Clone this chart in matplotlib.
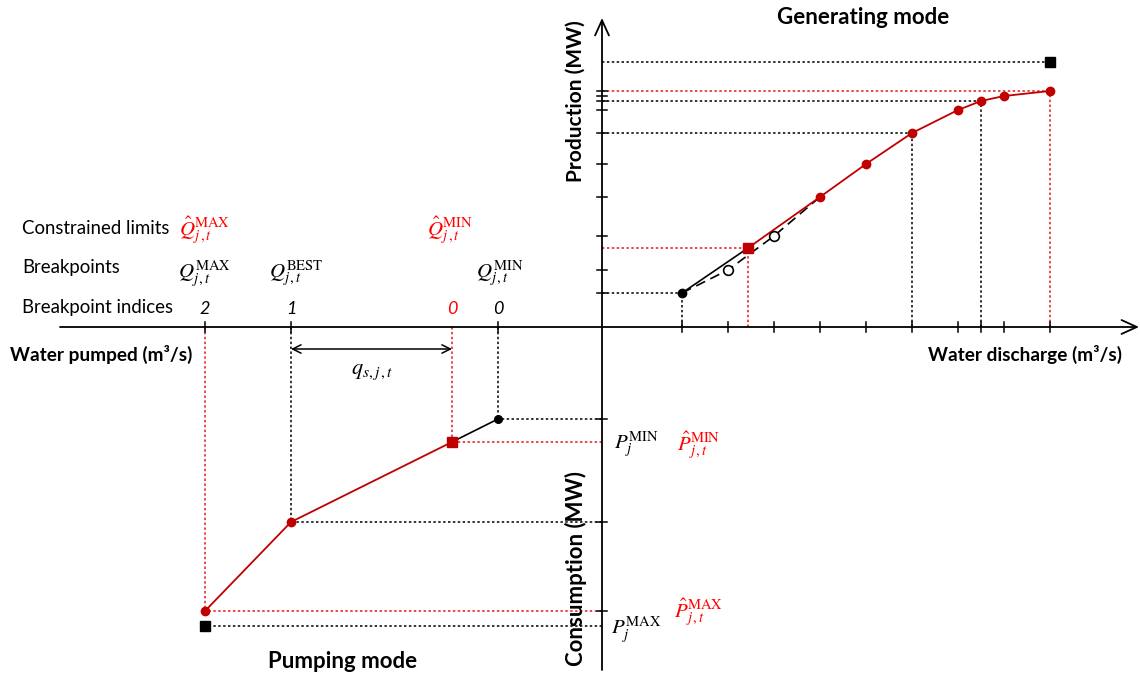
import matplotlib
matplotlib.use('Agg')
import matplotlib.pyplot as plt

plt.rcParams['font.family'] = ['Lato', 'DejaVu Sans']
plt.rcParams['mathtext.fontset'] = 'stix'

# ---- data (origin at the axes crossing) ----
# Generating mode: water discharge (+x) vs production (+y)
gen_tick_q = [80, 126, 172, 218, 264, 310, 356, 379, 402, 448]
gen_tick_p = [34, 57, 91, 130, 163, 194, 217, 226, 231, 236]
gen_unc_q = [80, 126, 172, 218]
gen_unc_p = [34, 57, 91, 130]
gen_open_q = [126, 172]
gen_open_p = [57, 91]
gen_min_q, gen_min_p = 80, 34
gen_cmin_q, gen_cmin_p = 146, 79
gen_red_q = [146, 218, 264, 310, 356, 379, 402, 448]
gen_red_p = [79, 130, 163, 194, 217, 226, 231, 236]
gen_max_q, gen_max_p = 448, 265
gen_guides_black = [(80, 34), (310, 194), (379, 226)]
gen_guides_red = [(146, 79), (448, 236)]

# Pumping mode: water pumped (-x) vs consumption (-y)
pump_min_q, pump_min_p = 104, 92
pump_cmin_q, pump_cmin_p = 150, 115
pump_red_q = [150, 311, 397]
pump_red_p = [115, 195, 284]
pump_max_q, pump_max_p = 397, 299
pump_tick_q = [104, 311, 397]
pump_tick_p = [92, 195, 284]
pump_guides_black = [(104, 92), (311, 195)]
pump_guides_red = [(150, 115), (397, 284)]
pump_index_labels = ['2', '1', '0', '0']
pump_index_q = [397, 311, 150, 104]
pump_index_red = [False, False, True, False]

RED = '#C00000'
RED_DOT = '#E41A1A'
RED_TXT = '#FF0000'

fig = plt.figure(figsize=(11.4, 6.75), dpi=100)
ax = fig.add_axes([0, 0, 1, 1])
ax.set_xlim(-602, 538)
ax.set_ylim(-348, 327)
ax.axis('off')

def X(px):
    return px - 602

def Y(py):
    return 327 - py

dot = (0, (1.6, 1.6))

# ---- axes with arrows ----
arrow_kw = dict(arrowstyle='->,head_length=1.1,head_width=0.5', lw=1.3,
                color='black', shrinkA=0, shrinkB=0, mutation_scale=10)
ax.annotate('', xy=(X(1139), 0), xytext=(X(60), 0), arrowprops=arrow_kw)
ax.annotate('', xy=(0, Y(18)), xytext=(0, Y(670)), arrowprops=arrow_kw)

# ---- ticks ----
tl = 5
for q in gen_tick_q:
    ax.plot([q, q], [-tl, tl], color='black', lw=1.1)
for p in gen_tick_p:
    ax.plot([-tl, tl], [p, p], color='black', lw=1.1)
for q in pump_tick_q:
    ax.plot([-q, -q], [-tl, tl], color='black', lw=1.1)
for p in pump_tick_p:
    ax.plot([-tl, tl], [-p, -p], color='black', lw=1.1)

# ---- dotted guide lines ----
def guide(q, p, c, vertical=True):
    ax.plot([0, q], [p, p], color=c, lw=1.1, ls=dot, zorder=1)
    if vertical:
        ax.plot([q, q], [0, p], color=c, lw=1.1, ls=dot, zorder=1)

for q, p in gen_guides_black:
    guide(q, p, 'black')
for q, p in gen_guides_red:
    guide(q, p, RED_DOT)
guide(gen_max_q, gen_max_p, 'black', vertical=False)
for q, p in pump_guides_black:
    guide(-q, -p, 'black')
for q, p in pump_guides_red:
    guide(-q, -p, RED_DOT)
guide(-pump_max_q, -pump_max_p, 'black', vertical=False)

# ---- generating curves ----
ax.plot(gen_unc_q, gen_unc_p, color='black', lw=1.2, ls=(0, (6, 3.5)), zorder=2)
ax.plot([gen_min_q, gen_cmin_q], [gen_min_p, gen_cmin_p], color='black', lw=1.2, zorder=3)
ax.plot(gen_red_q, gen_red_p, color=RED, lw=1.3, zorder=3)
ax.plot(gen_red_q[1:], gen_red_p[1:], 'o', color=RED, ms=6, zorder=4)
ax.plot([gen_cmin_q], [gen_cmin_p], 's', color=RED, ms=6.5, zorder=4)
ax.plot([gen_min_q], [gen_min_p], 'o', color='black', ms=6, zorder=4)
ax.plot(gen_open_q, gen_open_p, 'o', mfc='white', mec='black', mew=1.2, ms=7, zorder=4)
ax.plot([gen_max_q], [gen_max_p], 's', color='black', ms=6.5, zorder=4)

# ---- pumping curves ----
ax.plot([-pump_min_q, -pump_cmin_q], [-pump_min_p, -pump_cmin_p], color='black', lw=1.2, zorder=3)
ax.plot([-q for q in pump_red_q], [-p for p in pump_red_p], color=RED, lw=1.3, zorder=3)
ax.plot([-q for q in pump_red_q[1:]], [-p for p in pump_red_p[1:]], 'o', color=RED, ms=6, zorder=4)
ax.plot([-pump_cmin_q], [-pump_cmin_p], 's', color=RED, ms=6.5, zorder=4)
ax.plot([-pump_min_q], [-pump_min_p], 'o', color='black', ms=5.5, zorder=4)
ax.plot([-pump_max_q], [-pump_max_p], 's', color='black', ms=6.5, zorder=4)

# q_s arrow
ax.annotate('', xy=(-pump_cmin_q, Y(349)), xytext=(-pump_red_q[1], Y(349)),
            arrowprops=dict(arrowstyle='<->,head_length=0.6,head_width=0.3', lw=1.1,
                            color='black', shrinkA=0, shrinkB=0, mutation_scale=10))
ax.text(X(372), Y(372), r'$q_{s,j\,,t}$', fontsize=16, ha='center', va='center')

# ---- titles / axis labels ----
ax.text(X(863), Y(17), 'Generating mode', ha='center', va='center', fontweight='bold', fontsize=16)
ax.text(X(343), Y(662), 'Pumping mode', ha='center', va='center', fontweight='bold', fontsize=16)
ax.text(X(1025), Y(354), 'Water discharge (m³/s)', ha='center', va='center', fontweight='bold', fontsize=13.7)
ax.text(X(101), Y(354), 'Water pumped (m³/s)', ha='center', va='center', fontweight='bold', fontsize=13.7)
ax.text(X(576), Y(101), 'Production (MW)', ha='center', va='center', rotation=90,
        fontweight='bold', fontsize=15)
ax.text(X(576), Y(569), 'Consumption (MW)', ha='center', va='center', rotation=90,
        fontweight='bold', fontsize=16)

# ---- row labels ----
ax.text(X(22), Y(228), 'Constrained limits', ha='left', va='center', fontsize=13.4)
ax.text(X(22), Y(268), 'Breakpoints', ha='left', va='center', fontsize=13.4)
ax.text(X(22), Y(308), 'Breakpoint indices', ha='left', va='center', fontsize=13.4)

mfs = 15
ax.text(X(205), Y(230), r'$\hat{Q}_{j\,,t}^{\mathrm{MAX}}$', color=RED_TXT, fontsize=mfs, ha='center', va='center')
ax.text(X(450), Y(230), r'$\hat{Q}_{j\,,t}^{\mathrm{MIN}}$', color=RED_TXT, fontsize=mfs, ha='center', va='center')
ax.text(X(204), Y(274), r'$Q_{j\,,t}^{\mathrm{MAX}}$', fontsize=mfs, ha='center', va='center')
ax.text(X(296), Y(274), r'$Q_{j\,,t}^{\mathrm{BEST}}$', fontsize=mfs, ha='center', va='center')
ax.text(X(500), Y(274), r'$Q_{j\,,t}^{\mathrm{MIN}}$', fontsize=mfs, ha='center', va='center')

for lab, q, is_red in zip(pump_index_labels, pump_index_q, pump_index_red):
    ax.text(-q, Y(309), lab, fontsize=13, fontstyle='italic', ha='center', va='center',
            color=RED_TXT if is_red else 'black')

ax.text(X(614), Y(445), r'$P_{j}^{\mathrm{MIN}}$', fontsize=mfs, ha='left', va='center')
ax.text(X(677), Y(445), r'$\hat{P}_{j\,,t}^{\mathrm{MIN}}$', fontsize=mfs, ha='left', va='center', color=RED_TXT)
ax.text(X(611), Y(630), r'$P_{j}^{\mathrm{MAX}}$', fontsize=mfs, ha='left', va='center')
ax.text(X(674), Y(612), r'$\hat{P}_{j\,,t}^{\mathrm{MAX}}$', fontsize=mfs, ha='left', va='center', color=RED_TXT)

fig.savefig('out.png', dpi=100)
